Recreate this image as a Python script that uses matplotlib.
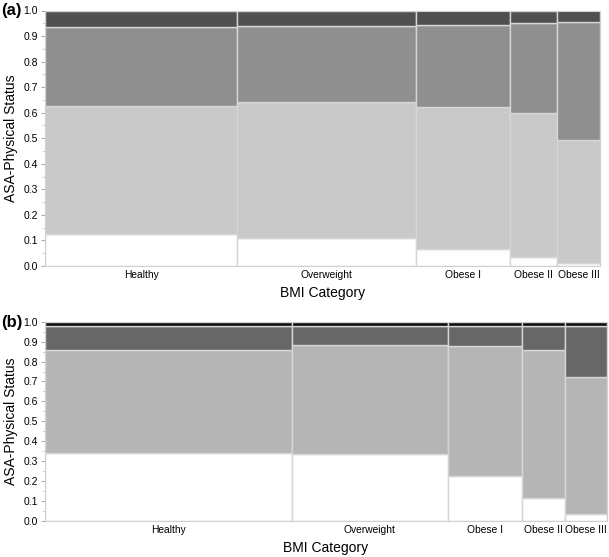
import matplotlib
matplotlib.use("Agg")
import matplotlib.pyplot as plt
from matplotlib.patches import Rectangle
from matplotlib.ticker import MultipleLocator

plt.rcParams['font.family'] = ['Liberation Sans', 'DejaVu Sans']

categories = ['Healthy', 'Overweight', 'Obese I', 'Obese II', 'Obese III']
asa_classes = ['ASA 1', 'ASA 2', 'ASA 3', 'ASA 4']

# Panel (a): column widths (share of patients) and ASA fractions per category
a_widths = [0.346, 0.322, 0.169, 0.085, 0.077]
a_asa1 = [0.127, 0.111, 0.067, 0.034, 0.010]
a_asa2 = [0.499, 0.531, 0.554, 0.564, 0.482]
a_asa3 = [0.311, 0.298, 0.321, 0.354, 0.463]
a_asa4 = [0.063, 0.060, 0.058, 0.048, 0.045]

# Panel (b)
b_widths = [0.440, 0.278, 0.132, 0.077, 0.075]
b_asa1 = [0.343, 0.336, 0.226, 0.114, 0.034]
b_asa2 = [0.513, 0.549, 0.652, 0.744, 0.690]
b_asa3 = [0.124, 0.095, 0.102, 0.122, 0.256]
b_asa4 = [0.020, 0.020, 0.020, 0.020, 0.020]

a_colors = ['#ffffff', '#c9c9c9', '#8f8f8f', '#505050']
b_colors = ['#ffffff', '#b5b5b5', '#676767', '#0a0a0a']

W, H = 609, 557
fig = plt.figure(figsize=(W / 100, H / 100), dpi=100)


def mosaic(ax, widths, segs, colors):
    total = sum(widths)
    x = 0.0
    centers = []
    for i, w in enumerate(widths):
        w = w / total
        y = 0.0
        for s, c in zip(segs, colors):
            h = s[i]
            ax.add_patch(Rectangle((x, y), w, h, facecolor=c,
                                   edgecolor='#d6d6d6', linewidth=1.0))
            y += h
        centers.append(x + w / 2)
        x += w
    ax.set_xlim(0, 1)
    ax.set_ylim(0, 1)
    ax.set_xticks(centers)
    ax.set_xticklabels(categories, fontsize=7.4)
    ax.tick_params(axis='x', length=0, pad=3)
    ax.yaxis.set_major_locator(MultipleLocator(0.1))
    ax.yaxis.set_minor_locator(MultipleLocator(0.05))
    ax.yaxis.set_major_formatter(matplotlib.ticker.FormatStrFormatter('%.1f'))
    ax.tick_params(axis='y', which='major', length=3, width=0.6,
                   color='#999999', labelsize=7.5, pad=2)
    ax.tick_params(axis='y', which='minor', length=2, width=0.5,
                   color='#bbbbbb')
    for sp in ax.spines.values():
        sp.set_color('#d0d0d0')
        sp.set_linewidth(0.8)
    ax.set_xlabel('BMI Category', fontsize=10, labelpad=4)
    ax.set_ylabel('ASA-Physical Status', fontsize=10, labelpad=4)


ax1 = fig.add_axes([45 / W, 1 - 266 / H, 555 / W, 255.5 / H])
mosaic(ax1, a_widths, [a_asa1, a_asa2, a_asa3, a_asa4], a_colors)
ax2 = fig.add_axes([45 / W, 1 - 521 / H, 562 / W, 199.3 / H])
mosaic(ax2, b_widths, [b_asa1, b_asa2, b_asa3, b_asa4], b_colors)

fig.text(1 / W, 1 - 11 / H, '(a)', fontsize=12, fontweight='bold', va='center', ha='left')
fig.text(1 / W, 1 - 322 / H, '(b)', fontsize=12, fontweight='bold', va='center', ha='left')

fig.savefig('out.png', dpi=100)
